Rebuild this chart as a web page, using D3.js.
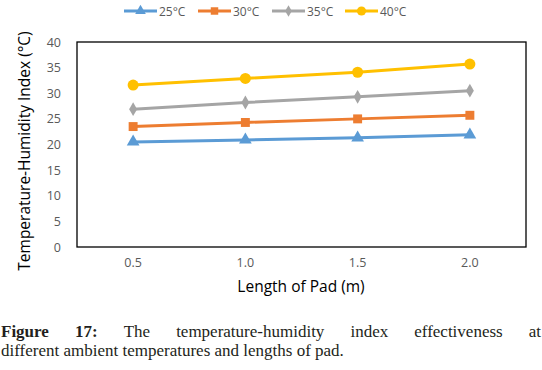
<!DOCTYPE html>
<html>
<head>
<meta charset="utf-8">
<script src="https://cdn.jsdelivr.net/npm/d3@7"></script>
<style>
  body { margin: 0; background: #fff; }
  svg { display: block; }
</style>
</head>
<body>
<div id="chart"></div>
<script>
// Chart data
const lengths = ["0.5", "1.0", "1.5", "2.0"];
const seriesNames = ["25°C", "30°C", "35°C", "40°C"];
const t25 = [20.5, 20.9, 21.3, 21.9];
const t30 = [23.5, 24.3, 25.0, 25.7];
const t35 = [26.9, 28.2, 29.3, 30.5];
const t40 = [31.6, 32.9, 34.1, 35.7];
const yTicks = [0, 5, 10, 15, 20, 25, 30, 35, 40];

const colors = ["#5B9BD5", "#ED7D31", "#A5A5A5", "#FFC000"];
const symbols = [d3.symbolTriangle, d3.symbolSquare, d3.symbolDiamond, d3.symbolCircle];
const sizes = [70, 80, 55, 95];
const series = [t25, t30, t35, t40].map((v, i) => ({ name: seriesNames[i], values: v }));

const width = 542, height = 370;
const margin = { top: 42, right: 16, bottom: 123, left: 77 };
const plotW = width - margin.left - margin.right;
const plotH = height - margin.top - margin.bottom;
const sans = "'Open Sans', Carlito, Calibri, sans-serif";

const svg = d3.select("#chart").append("svg")
    .attr("width", width)
    .attr("height", height);

const x = d3.scaleBand().domain(lengths).range([margin.left, margin.left + plotW]);
const y = d3.scaleLinear().domain([0, 40]).range([margin.top + plotH, margin.top]);

// plot frame
svg.append("rect")
    .attr("x", margin.left).attr("y", margin.top)
    .attr("width", plotW).attr("height", plotH)
    .attr("fill", "none").attr("stroke", "#000").attr("stroke-width", 1.3);

// y axis labels
const yAxis = svg.append("g")
    .attr("transform", `translate(${margin.left},0)`)
    .call(d3.axisLeft(y).tickValues(yTicks).tickSize(0).tickPadding(16));
yAxis.select(".domain").remove();
yAxis.selectAll("text").attr("fill", "#595959").style("font-family", sans).style("font-size", "12.5px");

// x axis labels
const xAxis = svg.append("g")
    .attr("transform", `translate(0,${margin.top + plotH})`)
    .call(d3.axisBottom(x).tickSize(0).tickPadding(11));
xAxis.select(".domain").remove();
xAxis.selectAll("text").attr("fill", "#595959").style("font-family", sans).style("font-size", "12.5px");

// axis titles
svg.append("text")
    .attr("transform", "translate(30,151) rotate(-90)")
    .attr("text-anchor", "middle")
    .style("font-family", sans).style("font-size", "15.5px")
    .text("Temperature-Humidity Index (°C)");

svg.append("text")
    .attr("x", 301).attr("y", 291.5)
    .attr("text-anchor", "middle")
    .style("font-family", sans).style("font-size", "15.5px")
    .text("Length of Pad (m)");

// lines and markers
const line = d3.line()
    .x((d, i) => x(lengths[i]) + x.bandwidth() / 2)
    .y(d => y(d));

series.forEach((s, i) => {
    svg.append("path")
        .datum(s.values)
        .attr("fill", "none")
        .attr("stroke", colors[i])
        .attr("stroke-width", 3)
        .attr("d", line);
    svg.selectAll(null)
        .data(s.values)
        .enter()
        .append("path")
        .attr("transform", (d, j) => `translate(${x(lengths[j]) + x.bandwidth() / 2},${y(d)})`)
        .attr("d", d3.symbol().type(symbols[i]).size(sizes[i]))
        .attr("fill", colors[i]);
});

// legend
const legendX = [124, 198, 272, 345];
const legend = svg.append("g");
series.forEach((s, i) => {
    const g = legend.append("g").attr("transform", `translate(${legendX[i]},11)`);
    g.append("line").attr("x1", 0).attr("x2", 33)
        .attr("stroke", colors[i]).attr("stroke-width", 3);
    g.append("path").attr("transform", "translate(16.5,0)")
        .attr("d", d3.symbol().type(symbols[i]).size(sizes[i] * 0.7))
        .attr("fill", colors[i]);
    g.append("text").attr("x", 35).attr("y", 4.5)
        .attr("fill", "#595959")
        .style("font-family", sans).style("font-size", "12px")
        .text(s.name);
});

// caption (first line justified)
const serif = "'Liberation Serif', 'DejaVu Serif', serif";
const words1 = ["Figure", "17:", "The", "temperature-humidity", "index", "effectiveness", "at"];
const cap = svg.append("g").style("font-family", serif).style("font-size", "17px").attr("fill", "#231f20");
const nodes = words1.map((w, i) => cap.append("text")
    .attr("y", 336.5)
    .style("font-weight", i < 2 ? "bold" : "normal")
    .text(w));
const widths = nodes.map(n => n.node().getComputedTextLength());
const total = d3.sum(widths);
const gap = (width - 2 - total) / (words1.length - 1);
let cx = 1;
nodes.forEach((n, i) => { n.attr("x", cx); cx += widths[i] + gap; });

cap.append("text").attr("x", 1).attr("y", 356)
    .text("different ambient temperatures and lengths of pad.");
</script>
</body>
</html>
